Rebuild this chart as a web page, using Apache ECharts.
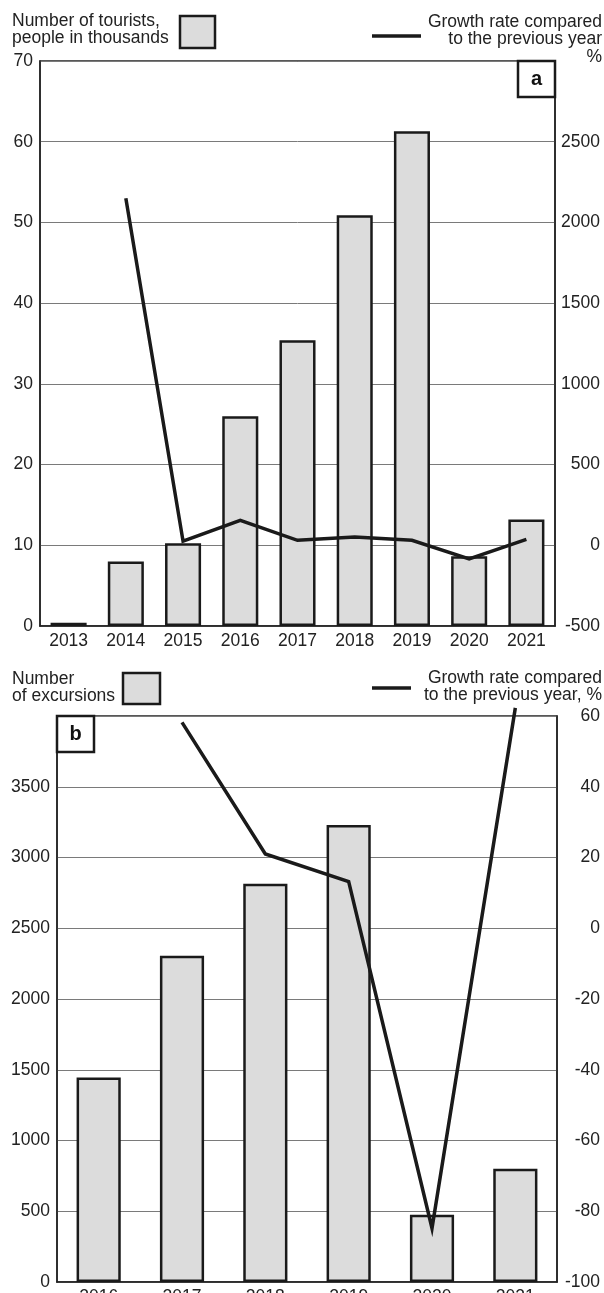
<!DOCTYPE html>
<html><head><meta charset="utf-8">
<script src="https://cdn.jsdelivr.net/npm/echarts@6/dist/echarts.min.js"></script>
<style>html,body{margin:0;padding:0;background:#fff}#c{width:604px;height:1293px}</style>
</head><body><div id="c"></div>
<script>
const yearsA = ['2013','2014','2015','2016','2017','2018','2019','2020','2021'];
const touristsA = [0.4, 8.0, 10.25, 26.0, 35.4, 50.9, 61.3, 8.65, 13.2];
const growthA = [null, 2150, 25, 154, 31, 52, 31, -84, 37];
const yearsB = ['2016','2017','2018','2019','2020','2021'];
const excursionsB = [1445, 2305, 2815, 3230, 475, 800];
const growthB = [null, 58.2, 21.0, 13.2, -84.8, 62.3];

const FONT = 'Liberation Sans';
const FS = 17.5;
const TXT = '#222';
const chart = echarts.init(document.getElementById('c'), null, {renderer:'canvas'});
const lbl = {fontFamily: FONT, fontSize: FS, color: TXT};
function xAx(gi, data, margin){
  return {type:'category', gridIndex:gi, data:data, boundaryGap:true,
    axisLine:{lineStyle:{color:'#222', width:1.5}}, axisTick:{show:false},
    axisLabel:Object.assign({margin:margin}, lbl)};
}
function yAx(gi, pos, min, max, interval, hideTop, split, margin){
  return {type:'value', gridIndex:gi, position:pos, min:min, max:max, interval:interval,
    axisLine:{show:true, lineStyle:{color:'#222', width:1.5}}, axisTick:{show:false},
    splitLine:{show:split, lineStyle:{color:'#7a7a7a', width:1}},
    axisLabel:Object.assign({margin:margin, align:'right',
      formatter:function(v){ return (hideTop && v===max) ? '' : String(v); }}, lbl)};
}
const F = FS + 'px "' + FONT + '"';
const option = {
  animation:false,
  grid:[
    {left:40, right:49, top:61, height:565, show:true, borderColor:'#222', borderWidth:1.5, backgroundColor:'transparent', containLabel:false, outerBoundsMode:'none'},
    {left:57, right:47, top:716, height:566, show:true, borderColor:'#222', borderWidth:1.5, backgroundColor:'transparent', containLabel:false, outerBoundsMode:'none'}
  ],
  xAxis:[xAx(0, yearsA, 6), xAx(1, yearsB, 6)],
  yAxis:[
    yAx(0,'left',0,70,10,false,true,7),
    yAx(0,'right',-500,3000,500,true,false,45),
    yAx(1,'left',0,4000,500,true,true,7),
    yAx(1,'right',-100,60,20,false,false,43)
  ],
  series:[
    {type:'bar', xAxisIndex:0, yAxisIndex:0, data:touristsA, barWidth:'63%',
      itemStyle:{color:'#dcdcdc', borderColor:'#1a1a1a', borderWidth:2.5}},
    {type:'line', xAxisIndex:0, yAxisIndex:1, data:growthA, showSymbol:false, connectNulls:false,
      lineStyle:{color:'#1a1a1a', width:3.5, join:'miter'}, z:5},
    {type:'bar', xAxisIndex:1, yAxisIndex:2, data:excursionsB, barWidth:'53%',
      itemStyle:{color:'#dcdcdc', borderColor:'#1a1a1a', borderWidth:2.5}},
    {type:'line', xAxisIndex:1, yAxisIndex:3, data:growthB, showSymbol:false, clip:false,
      lineStyle:{color:'#1a1a1a', width:3.5, join:'miter', miterLimit:20}, z:5}
  ],
  graphic:[
    {type:'text', left:12, top:12, style:{text:'Number of tourists,\npeople in thousands', font:F, fill:TXT, lineHeight:17.5}},
    {type:'rect', shape:{x:180, y:16, width:35, height:32}, style:{fill:'#dcdcdc', stroke:'#1a1a1a', lineWidth:2.5}},
    {type:'line', shape:{x1:372, y1:36, x2:421, y2:36}, style:{stroke:'#1a1a1a', lineWidth:3.5}},
    {type:'text', x:602, y:13, style:{text:'Growth rate compared\nto the previous year\n%', font:F, fill:TXT, lineHeight:17.5, align:'right', verticalAlign:'top'}},
    {type:'rect', shape:{x:518, y:61, width:37, height:36}, style:{fill:'#fff', stroke:'#1a1a1a', lineWidth:2.5}, z:10},
    {type:'text', x:536.5, y:79, style:{text:'a', font:'bold 20px "'+FONT+'"', fill:'#111', align:'center', verticalAlign:'middle'}, z:11},
    {type:'text', left:12, top:670, style:{text:'Number\nof excursions', font:F, fill:TXT, lineHeight:17}},
    {type:'rect', shape:{x:123, y:673, width:37, height:31}, style:{fill:'#dcdcdc', stroke:'#1a1a1a', lineWidth:2.5}},
    {type:'line', shape:{x1:372, y1:688, x2:411, y2:688}, style:{stroke:'#1a1a1a', lineWidth:3.5}},
    {type:'text', x:602, y:670, style:{text:'Growth rate compared\nto the previous year, %', font:F, fill:TXT, lineHeight:17, align:'right', verticalAlign:'top'}},
    {type:'rect', shape:{x:57, y:716, width:37, height:36}, style:{fill:'#fff', stroke:'#1a1a1a', lineWidth:2.5}, z:10},
    {type:'text', x:75.5, y:734, style:{text:'b', font:'bold 20px "'+FONT+'"', fill:'#111', align:'center', verticalAlign:'middle'}, z:11}
  ]
};
chart.setOption(option);
</script></body></html>
